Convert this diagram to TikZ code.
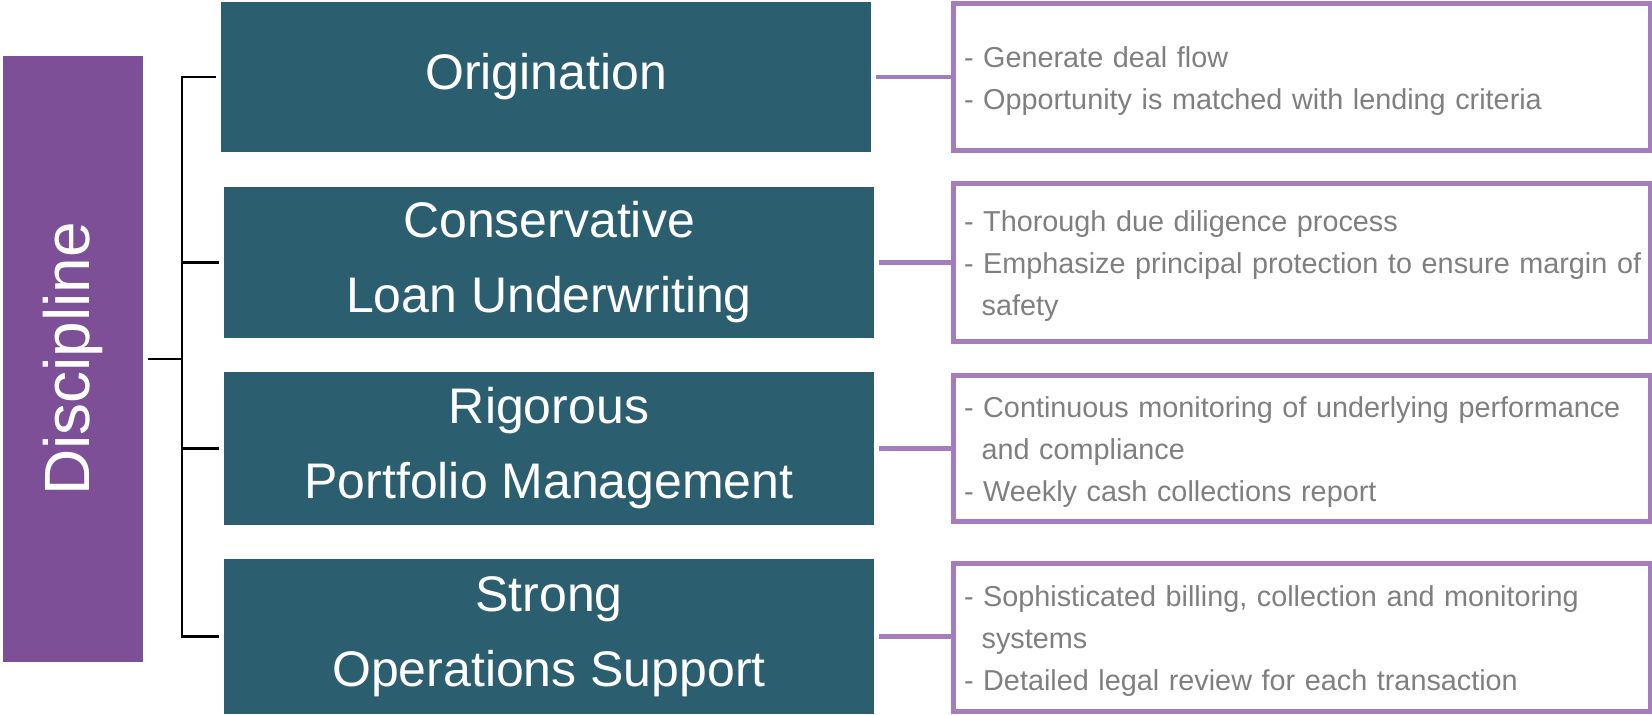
\documentclass[tikz,border=0pt]{standalone}
\usepackage{fontspec}
\setmainfont{Liberation Sans}
\usepackage{graphicx}
\usepackage{xcolor}
\usepackage{tikz}
\usetikzlibrary{positioning}

\definecolor{stageteal}{HTML}{2B5F6F}
\definecolor{discpurple}{HTML}{7C4F97}
\definecolor{linkpurple}{HTML}{A57DBE}
\definecolor{notegray}{HTML}{7F7F7F}

\begin{document}
\begin{tikzpicture}[x=0.5pt,y=-0.5pt,
    stage/.style={fill=stageteal,text=white,minimum width=325pt,align=center,
      font=\fontsize{25}{37.5}\selectfont},
    notes/.style={draw=linkpurple,line width=2.4pt,minimum width=348.5pt,
      text width=338pt,inner xsep=5.25pt,align=left,text=notegray,
      font=\fontsize{14.4}{21}\selectfont,
      execute at begin node={\rule{0pt}{14pt}}},
    link/.style={draw=linkpurple,line width=2.25pt},
    bracket/.style={draw=black,line width=1.35pt}]
      \useasboundingbox (0,0) rectangle (1652,714);
      % left bar
      \node[fill=discpurple,text=white,minimum width=70pt,minimum height=303pt,
        font=\fontsize{32}{38}\selectfont] (disc) at (73,359)
        {\rotatebox{90}{Discipline}};
      % stages
      \node[stage,minimum height=75pt] (orig) at (546,77) {Origination};
      \node[stage,minimum height=75.5pt] (cons) at (549,262.5) {Conservative\\Loan Underwriting};
      \node[stage,minimum height=76.5pt] (rig) at (549,448.5) {Rigorous\\Portfolio Management};
      \node[stage,minimum height=77.5pt] (ops) at (549,636.5) {Strong\\Operations Support};
      % notes on the right
      \node[notes,minimum height=73.5pt] (d1) at (1302,77)
        {- Generate deal flow\\
         - Opportunity is matched with lending criteria};
      \node[notes,minimum height=78.8pt] (d2) at (1302,262.5)
        {- Thorough due diligence process\\
         \mbox{- Emphasize principal protection to ensure margin of}\\
         \hspace*{8.8pt}safety};
      \node[notes,minimum height=73pt] (d3) at (1302,448.7)
        {\mbox{- Continuous monitoring of underlying performance}\\
         \hspace*{8.8pt}and compliance\\
         - Weekly cash collections report};
      \node[notes,minimum height=74.2pt] (d4) at (1302,637.3)
        {\mbox{- Sophisticated billing, collection and monitoring}\\
         \hspace*{8.8pt}systems\\
         - Detailed legal review for each transaction};
      % bracket
      \coordinate (jt) at (182,77);
      \draw[bracket] ([xshift=-2.5pt]orig.west) -- (jt |- orig.west)
        -- (jt |- ops.west) -- ([xshift=-2.5pt]ops.west);
      \foreach \s in {cons,rig}
        \draw[bracket] (jt |- \s.west) -- ([xshift=-2.5pt]\s.west);
      \draw[bracket] ([xshift=2.5pt]disc.east) -- (jt |- disc.east);
      % links
      \foreach \s/\d in {orig/d1,cons/d2,rig/d3,ops/d4}
        \draw[link] ([xshift=2.5pt]\s.east) -- (\d.west |- \s.east);
    \end{tikzpicture}
\end{document}
